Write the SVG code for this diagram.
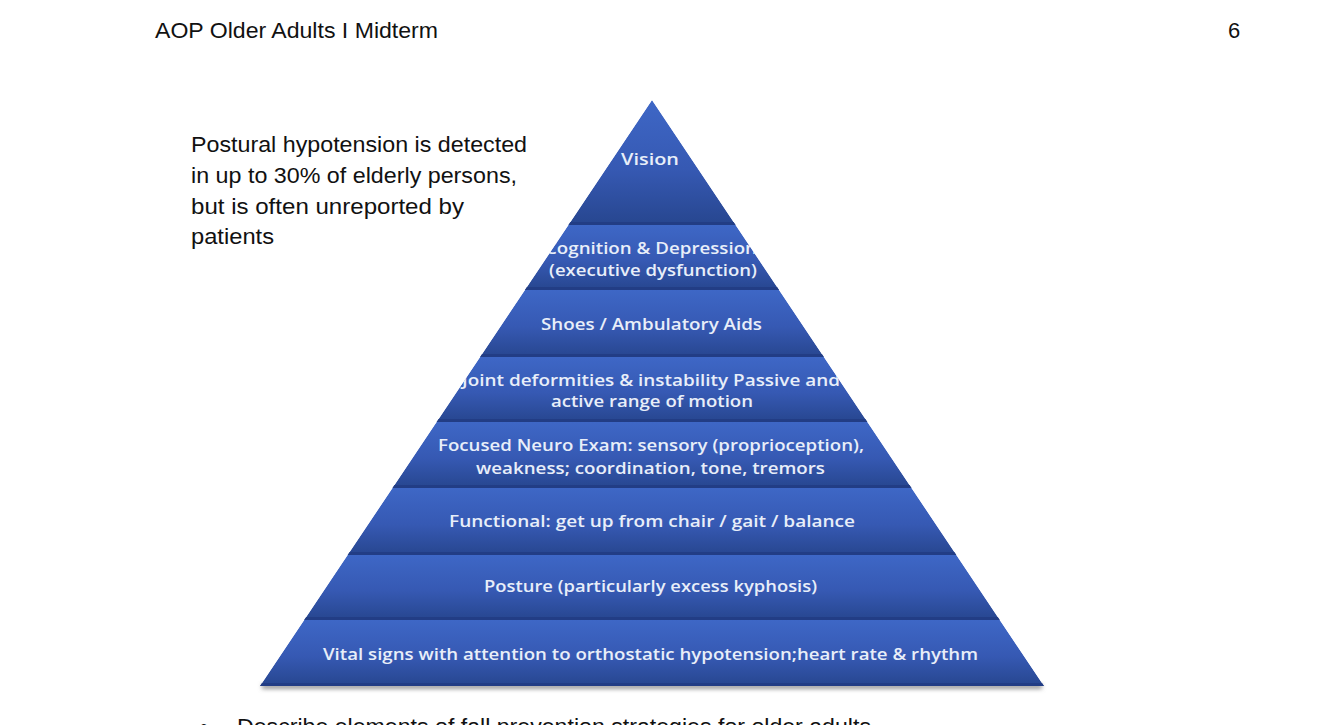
<svg xmlns="http://www.w3.org/2000/svg" width="1334" height="725" viewBox="0 0 1334 725">
<style>
.doc{font-family:"Liberation Sans","Open Sans",sans-serif;fill:#111;font-size:22px}
.lbl{font-family:"Open Sans","Liberation Sans",sans-serif;fill:#e8eef9;font-size:16.5px;font-weight:600;text-anchor:middle}
.layer{fill:url(#lg)}
.sep{fill:#223d85}
</style>
<defs>
<linearGradient id="lg" x1="0" y1="0" x2="0" y2="1">
<stop offset="0" stop-color="#3e67c6"/>
<stop offset="0.55" stop-color="#3659b3"/>
<stop offset="1" stop-color="#27468f"/>
</linearGradient>
<clipPath id="pyr"><polygon points="652,100 1044,686 260,686"/></clipPath>
<filter id="sh" x="-5%" y="-50%" width="110%" height="300%"><feGaussianBlur stdDeviation="2"/></filter>
</defs>
<rect width="1334" height="725" fill="#ffffff"/>
<text class="doc" x="155" y="38" textLength="283" lengthAdjust="spacingAndGlyphs">AOP Older Adults I Midterm</text>
<text class="doc" x="1228" y="38">6</text>
<g id="note" class="doc" font-size="23">
<text x="191" y="152" textLength="336" lengthAdjust="spacingAndGlyphs">Postural hypotension is detected</text>
<text x="191" y="183" textLength="326" lengthAdjust="spacingAndGlyphs">in up to 30% of elderly persons,</text>
<text x="191" y="214" textLength="273" lengthAdjust="spacingAndGlyphs">but is often unreported by</text>
<text x="191" y="244" textLength="83" lengthAdjust="spacingAndGlyphs">patients</text>
</g>
<rect x="262" y="684" width="780" height="5" fill="#9a9a9a" filter="url(#sh)"/>
<g clip-path="url(#pyr)">
<g id="layer1"><polygon class="layer" points="652,100 735.6,225 568.4,225"/><rect class="sep" x="250" y="222" width="800" height="3"/><text class="lbl" x="650" y="165" textLength="58" lengthAdjust="spacingAndGlyphs">Vision</text></g>
<g id="layer2"><polygon class="layer" points="568.4,225 735.6,225 779.1,290 524.9,290"/><rect class="sep" x="250" y="287" width="800" height="3"/><text class="lbl" x="651" y="254" textLength="212" lengthAdjust="spacingAndGlyphs">Cognition &amp; Depression</text><text class="lbl" x="653" y="276" textLength="208" lengthAdjust="spacingAndGlyphs">(executive dysfunction)</text></g>
<g id="layer3"><polygon class="layer" points="524.9,290 779.1,290 823.9,357 480.1,357"/><rect class="sep" x="250" y="354" width="800" height="3"/><text class="lbl" x="651.5" y="330" textLength="221" lengthAdjust="spacingAndGlyphs">Shoes / Ambulatory Aids</text></g>
<g id="layer4"><polygon class="layer" points="480.1,357 823.9,357 867.4,422 436.6,422"/><rect class="sep" x="250" y="419" width="800" height="3"/><text class="lbl" x="651" y="386" textLength="378" lengthAdjust="spacingAndGlyphs">Joint deformities &amp; instability Passive and</text><text class="lbl" x="652" y="407" textLength="202" lengthAdjust="spacingAndGlyphs">active range of motion</text></g>
<g id="layer5"><polygon class="layer" points="436.6,422 867.4,422 911.5,488 392.5,488"/><rect class="sep" x="250" y="485" width="800" height="3"/><text class="lbl" x="651" y="451" textLength="426" lengthAdjust="spacingAndGlyphs">Focused Neuro Exam: sensory (proprioception),</text><text class="lbl" x="650.5" y="474" textLength="349" lengthAdjust="spacingAndGlyphs">weakness; coordination,  tone, tremors</text></g>
<g id="layer6"><polygon class="layer" points="392.5,488 911.5,488 956.4,555 347.6,555"/><rect class="sep" x="250" y="552" width="800" height="3"/><text class="lbl" x="652" y="527" textLength="406" lengthAdjust="spacingAndGlyphs">Functional: get up from chair / gait  / balance</text></g>
<g id="layer7"><polygon class="layer" points="347.6,555 956.4,555 999.8,620 304.2,620"/><rect class="sep" x="250" y="617" width="800" height="3"/><text class="lbl" x="650.5" y="592" textLength="333" lengthAdjust="spacingAndGlyphs">Posture (particularly excess kyphosis)</text></g>
<g id="layer8"><polygon class="layer" points="304.2,620 999.8,620 1044,686 260,686"/><rect class="sep" x="250" y="683" width="800" height="3"/><text class="lbl" x="650.5" y="660" textLength="655" lengthAdjust="spacingAndGlyphs">Vital signs with attention to orthostatic hypotension;heart  rate &amp; rhythm</text></g>
</g>
<g id="connectors"/>
<text class="doc" x="200" y="734">•</text>
<text class="doc" x="237" y="734" textLength="634" lengthAdjust="spacingAndGlyphs">Describe elements of fall prevention strategies for older adults</text>
</svg>
